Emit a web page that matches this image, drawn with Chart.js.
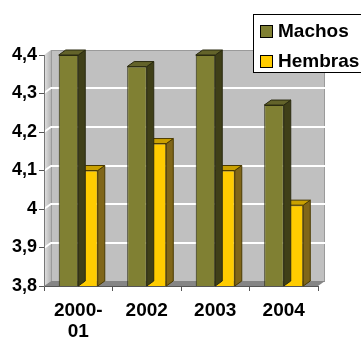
<!DOCTYPE html>
<html>
<head>
<meta charset="utf-8">
<script src="https://cdn.jsdelivr.net/npm/chart.js@4/dist/chart.umd.min.js"></script>
<style>
  html, body { margin: 0; padding: 0; background: #fff; }
  #wrap { width: 361px; height: 338px; position: relative; }
</style>
</head>
<body>
<div id="wrap"><canvas id="c"></canvas></div>
<script>
// Data
const categories = [['2000-', '01'], '2002', '2003', '2004'];
const machos = [4.4, 4.37, 4.4, 4.27];
const hembras = [4.1, 4.17, 4.1, 4.01];
const seriesNames = ['Machos', 'Hembras'];
const yMin = 3.8, yMax = 4.4, yStep = 0.1;
const yTickLabels = ['3,8', '3,9', '4', '4,1', '4,2', '4,3', '4,4'];

// Look of the pseudo-3D faces
const DX = 7, DY = -5;
const faces = [
  { front: '#808033', side: '#3f3f18', top: '#63632a', edge: '#2a2a10' },
  { front: '#ffcc00', side: '#806619', top: '#c9a000', edge: '#4a3a00' }
];
const FONT = '"Liberation Sans", Arial, sans-serif';

// Back wall, side wall, floor and wall gridlines
const walls = {
  id: 'walls',
  beforeDraw(chart) {
    const { ctx, chartArea: ca, scales: { y } } = chart;
    const w = ca.right - ca.left, h = ca.bottom - ca.top;
    ctx.save();
    // back wall
    ctx.fillStyle = '#c0c0c0';
    ctx.fillRect(ca.left + DX, ca.top + DY, w, h);
    ctx.strokeStyle = '#9a9a9a';
    ctx.lineWidth = 1;
    ctx.strokeRect(ca.left + DX + 0.5, ca.top + DY + 0.5, w - 1, h);
    // side wall
    const g = ctx.createLinearGradient(ca.left, 0, ca.left + DX, 0);
    g.addColorStop(0, '#e4e4e4');
    g.addColorStop(1, '#b4b4b4');
    ctx.fillStyle = g;
    ctx.beginPath();
    ctx.moveTo(ca.left, ca.top);
    ctx.lineTo(ca.left + DX, ca.top + DY);
    ctx.lineTo(ca.left + DX, ca.bottom + DY);
    ctx.lineTo(ca.left, ca.bottom);
    ctx.closePath();
    ctx.fill();
    // floor
    ctx.fillStyle = '#858585';
    ctx.beginPath();
    ctx.moveTo(ca.left, ca.bottom);
    ctx.lineTo(ca.left + DX, ca.bottom + DY);
    ctx.lineTo(ca.right + DX, ca.bottom + DY);
    ctx.lineTo(ca.right, ca.bottom);
    ctx.closePath();
    ctx.fill();
    // gridlines on the walls
    ctx.strokeStyle = '#ffffff';
    ctx.lineWidth = 2;
    y.ticks.forEach(t => {
      if (t.value <= yMin + 1e-9 || t.value >= yMax - 1e-9) return;
      const py = Math.round(y.getPixelForValue(t.value));
      ctx.beginPath();
      ctx.moveTo(ca.left, py);
      ctx.lineTo(ca.left + DX, py + DY);
      ctx.lineTo(ca.right + DX, py + DY);
      ctx.stroke();
    });
    ctx.restore();
  }
};

// Side and top faces of each bar
const bars3d = {
  id: 'bars3d',
  afterDatasetDraw(chart, args) {
    const { ctx, chartArea: ca } = chart;
    const f = faces[args.index];
    ctx.save();
    ctx.lineWidth = 1;
    ctx.strokeStyle = f.edge;
    args.meta.data.forEach(bar => {
      const p = bar.getProps(['x', 'y', 'base', 'width'], true);
      const y = p.y, base = Math.min(p.base, ca.bottom);
      const l = p.x - p.width / 2, r = p.x + p.width / 2;
      // side face
      ctx.fillStyle = f.side;
      ctx.beginPath();
      ctx.moveTo(r, y);
      ctx.lineTo(r + DX, y + DY);
      ctx.lineTo(r + DX, base + DY);
      ctx.lineTo(r, base);
      ctx.closePath();
      ctx.fill();
      ctx.stroke();
      // top face
      ctx.fillStyle = f.top;
      ctx.beginPath();
      ctx.moveTo(l, y);
      ctx.lineTo(l + DX, y + DY);
      ctx.lineTo(r + DX, y + DY);
      ctx.lineTo(r, y);
      ctx.closePath();
      ctx.fill();
      ctx.stroke();
    });
    ctx.restore();
  }
};

// Boxed legend in the upper right corner
const boxLegend = {
  id: 'boxLegend',
  afterDraw(chart) {
    const { ctx } = chart;
    const bx = 253, by = 14, bw = 120, bh = 58;
    ctx.save();
    ctx.fillStyle = '#ffffff';
    ctx.fillRect(bx, by, bw, bh);
    ctx.strokeStyle = '#000';
    ctx.lineWidth = 1;
    ctx.strokeRect(bx + 0.5, by + 0.5, bw, bh);
    ctx.font = 'bold 19px ' + FONT;
    ctx.textBaseline = 'alphabetic';
    chart.data.datasets.forEach((ds, i) => {
      const rowY = by + 11 + i * 30;
      ctx.fillStyle = ds.backgroundColor;
      ctx.fillRect(260.5, rowY + 0.5, 12, 12);
      ctx.strokeStyle = '#000';
      ctx.strokeRect(260.5, rowY + 0.5, 12, 12);
      ctx.fillStyle = '#000';
      ctx.fillText(ds.label, 278, rowY + 12);
    });
    ctx.restore();
  }
};

const tickFont = { family: FONT, size: 19, weight: 'bold', lineHeight: 1.12 };

new Chart(document.getElementById('c'), {
  type: 'bar',
  data: {
    labels: categories,
    datasets: [
      { label: seriesNames[0], data: machos, backgroundColor: faces[0].front,
        borderColor: faces[0].edge, borderWidth: 1,
        categoryPercentage: 0.57, barPercentage: 1.0 },
      { label: seriesNames[1], data: hembras, backgroundColor: faces[1].front,
        borderColor: faces[1].edge, borderWidth: 1,
        categoryPercentage: 0.57, barPercentage: 1.0 }
    ]
  },
  options: {
    responsive: true,
    maintainAspectRatio: false,
    animation: false,
    layout: { padding: { top: 55, right: 43, left: 0, bottom: 0 } },
    plugins: { legend: { display: false }, tooltip: { enabled: false } },
    scales: {
      x: {
        offset: true,
        grid: { offset: true, drawOnChartArea: false, drawTicks: true, tickLength: 5, color: '#555' },
        border: { display: true, color: '#555', width: 1 },
        ticks: { font: tickFont, color: '#000', padding: 9, maxRotation: 0, autoSkip: false },
        afterFit: s => { s.height = 52; }
      },
      y: {
        min: yMin, max: yMax,
        grid: { drawOnChartArea: false, drawTicks: true, tickLength: 5, color: '#555' },
        border: { display: true, color: '#777', width: 1 },
        ticks: {
          stepSize: yStep,
          font: { family: FONT, size: 18, weight: 'bold' }, color: '#000', padding: 2,
          callback: v => yTickLabels[Math.round((v - yMin) / yStep)]
        },
        afterFit: s => { s.width = 44; }
      }
    }
  },
  plugins: [walls, bars3d, boxLegend]
});
</script>
</body>
</html>
